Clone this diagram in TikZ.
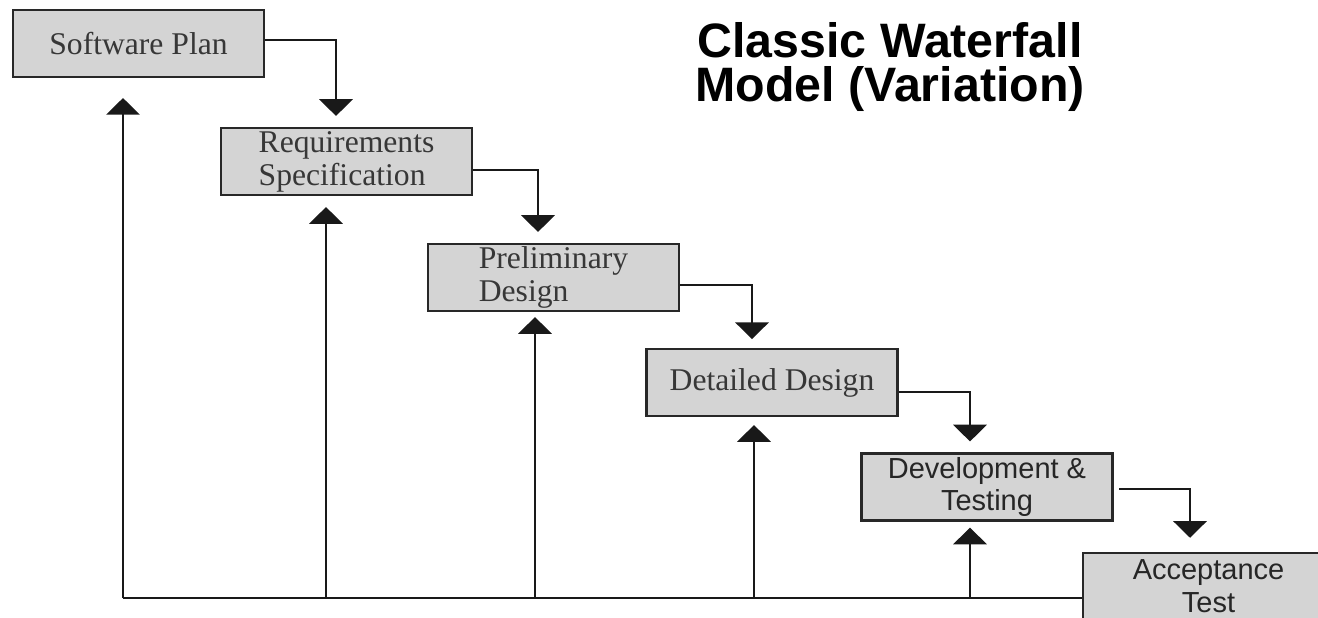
\documentclass[tikz,border=0pt]{standalone}
\usepackage{fontspec}
\setmainfont{Liberation Serif}
\newfontfamily\sansf{Liberation Sans}
\usetikzlibrary{arrows.meta,calc}
\definecolor{boxfill}{RGB}{212,212,212}
\definecolor{edgec}{RGB}{40,40,40}
\definecolor{txt}{RGB}{55,55,55}
\begin{document}
\begin{tikzpicture}[x=0.02cm,y=-0.02cm,
  stage/.style={draw=edgec, line width=1.35pt, fill=boxfill, minimum width=5.02cm,
    minimum height=1.34cm, inner sep=0pt, font=\fontsize{18}{18.7}\selectfont,
    text=txt, align=left},
  sstage/.style={stage, font=\sansf\fontsize{16.5}{18.7}\selectfont, align=center, text=black!85},
  flow/.style={draw=black!90, line width=1.5pt, -{Triangle[width=19pt,length=9.5pt]}},
  link/.style={draw=black!90, line width=1.5pt},
]
\clip (0,0) rectangle (1318,618);
\fill[white] (0,0) rectangle (1318,618);

\node[stage] (sp) at (138.5,43.5) {Software Plan};
\node[stage] (rs) at (346.5,161.5) {Requirements\\Specification};
\node[stage] (pd) at (553.5,277.5) {Preliminary\\Design};
\node[stage] (dd) at (772,382.5) {Detailed Design};
\node[sstage] (dt) at (987,487) {Development \&\\Testing};
\node[sstage] (at) at (1208.5,586.5) {Acceptance\\Test};

\node[font=\sansf\bfseries\fontsize{27.5}{25.5}\selectfont, align=center] (title) at (890,67)
  {Classic Waterfall\\Model (Variation)};

% forward flow
\draw[flow, shorten >=6.2pt] ($(sp.east)+(0,-3.5)$) -| ($(rs.north)+(-10.5,0)$);
\draw[flow, shorten >=6.2pt] ($(rs.east)+(0,8.5)$) -| ($(pd.north)+(-15.5,0)$);
\draw[flow, shorten >=5pt] ($(pd.east)+(0,7.5)$) -| ($(dd.north)+(-20,0)$);
\draw[flow, shorten >=6.2pt] ($(dd.east)+(0,9.5)$) -| ($(dt.north)+(-17,0)$);
\draw[flow, shorten >=8pt] ($(dt.east)+(5.5,2)$) -| ($(at.north)+(-18.5,0)$);

% feedback
\coordinate (b0) at (123,598);
\coordinate (b1) at (326,598);
\coordinate (b2) at (535,598);
\coordinate (b3) at (754,598);
\coordinate (b4) at (970,598);
\draw[link] (b0) -- (b0 -| at.west);
\draw[flow, shorten >=11.3pt] (b0) -- (b0 |- sp.south);
\draw[flow, shorten >=6.2pt] (b1) -- (b1 |- rs.south);
\draw[flow, shorten >=2.8pt] (b2) -- (b2 |- pd.south);
\draw[flow, shorten >=4.5pt] (b3) -- (b3 |- dd.south);
\draw[flow, shorten >=3.4pt] (b4) -- (b4 |- dt.south);
\end{tikzpicture}
\end{document}
